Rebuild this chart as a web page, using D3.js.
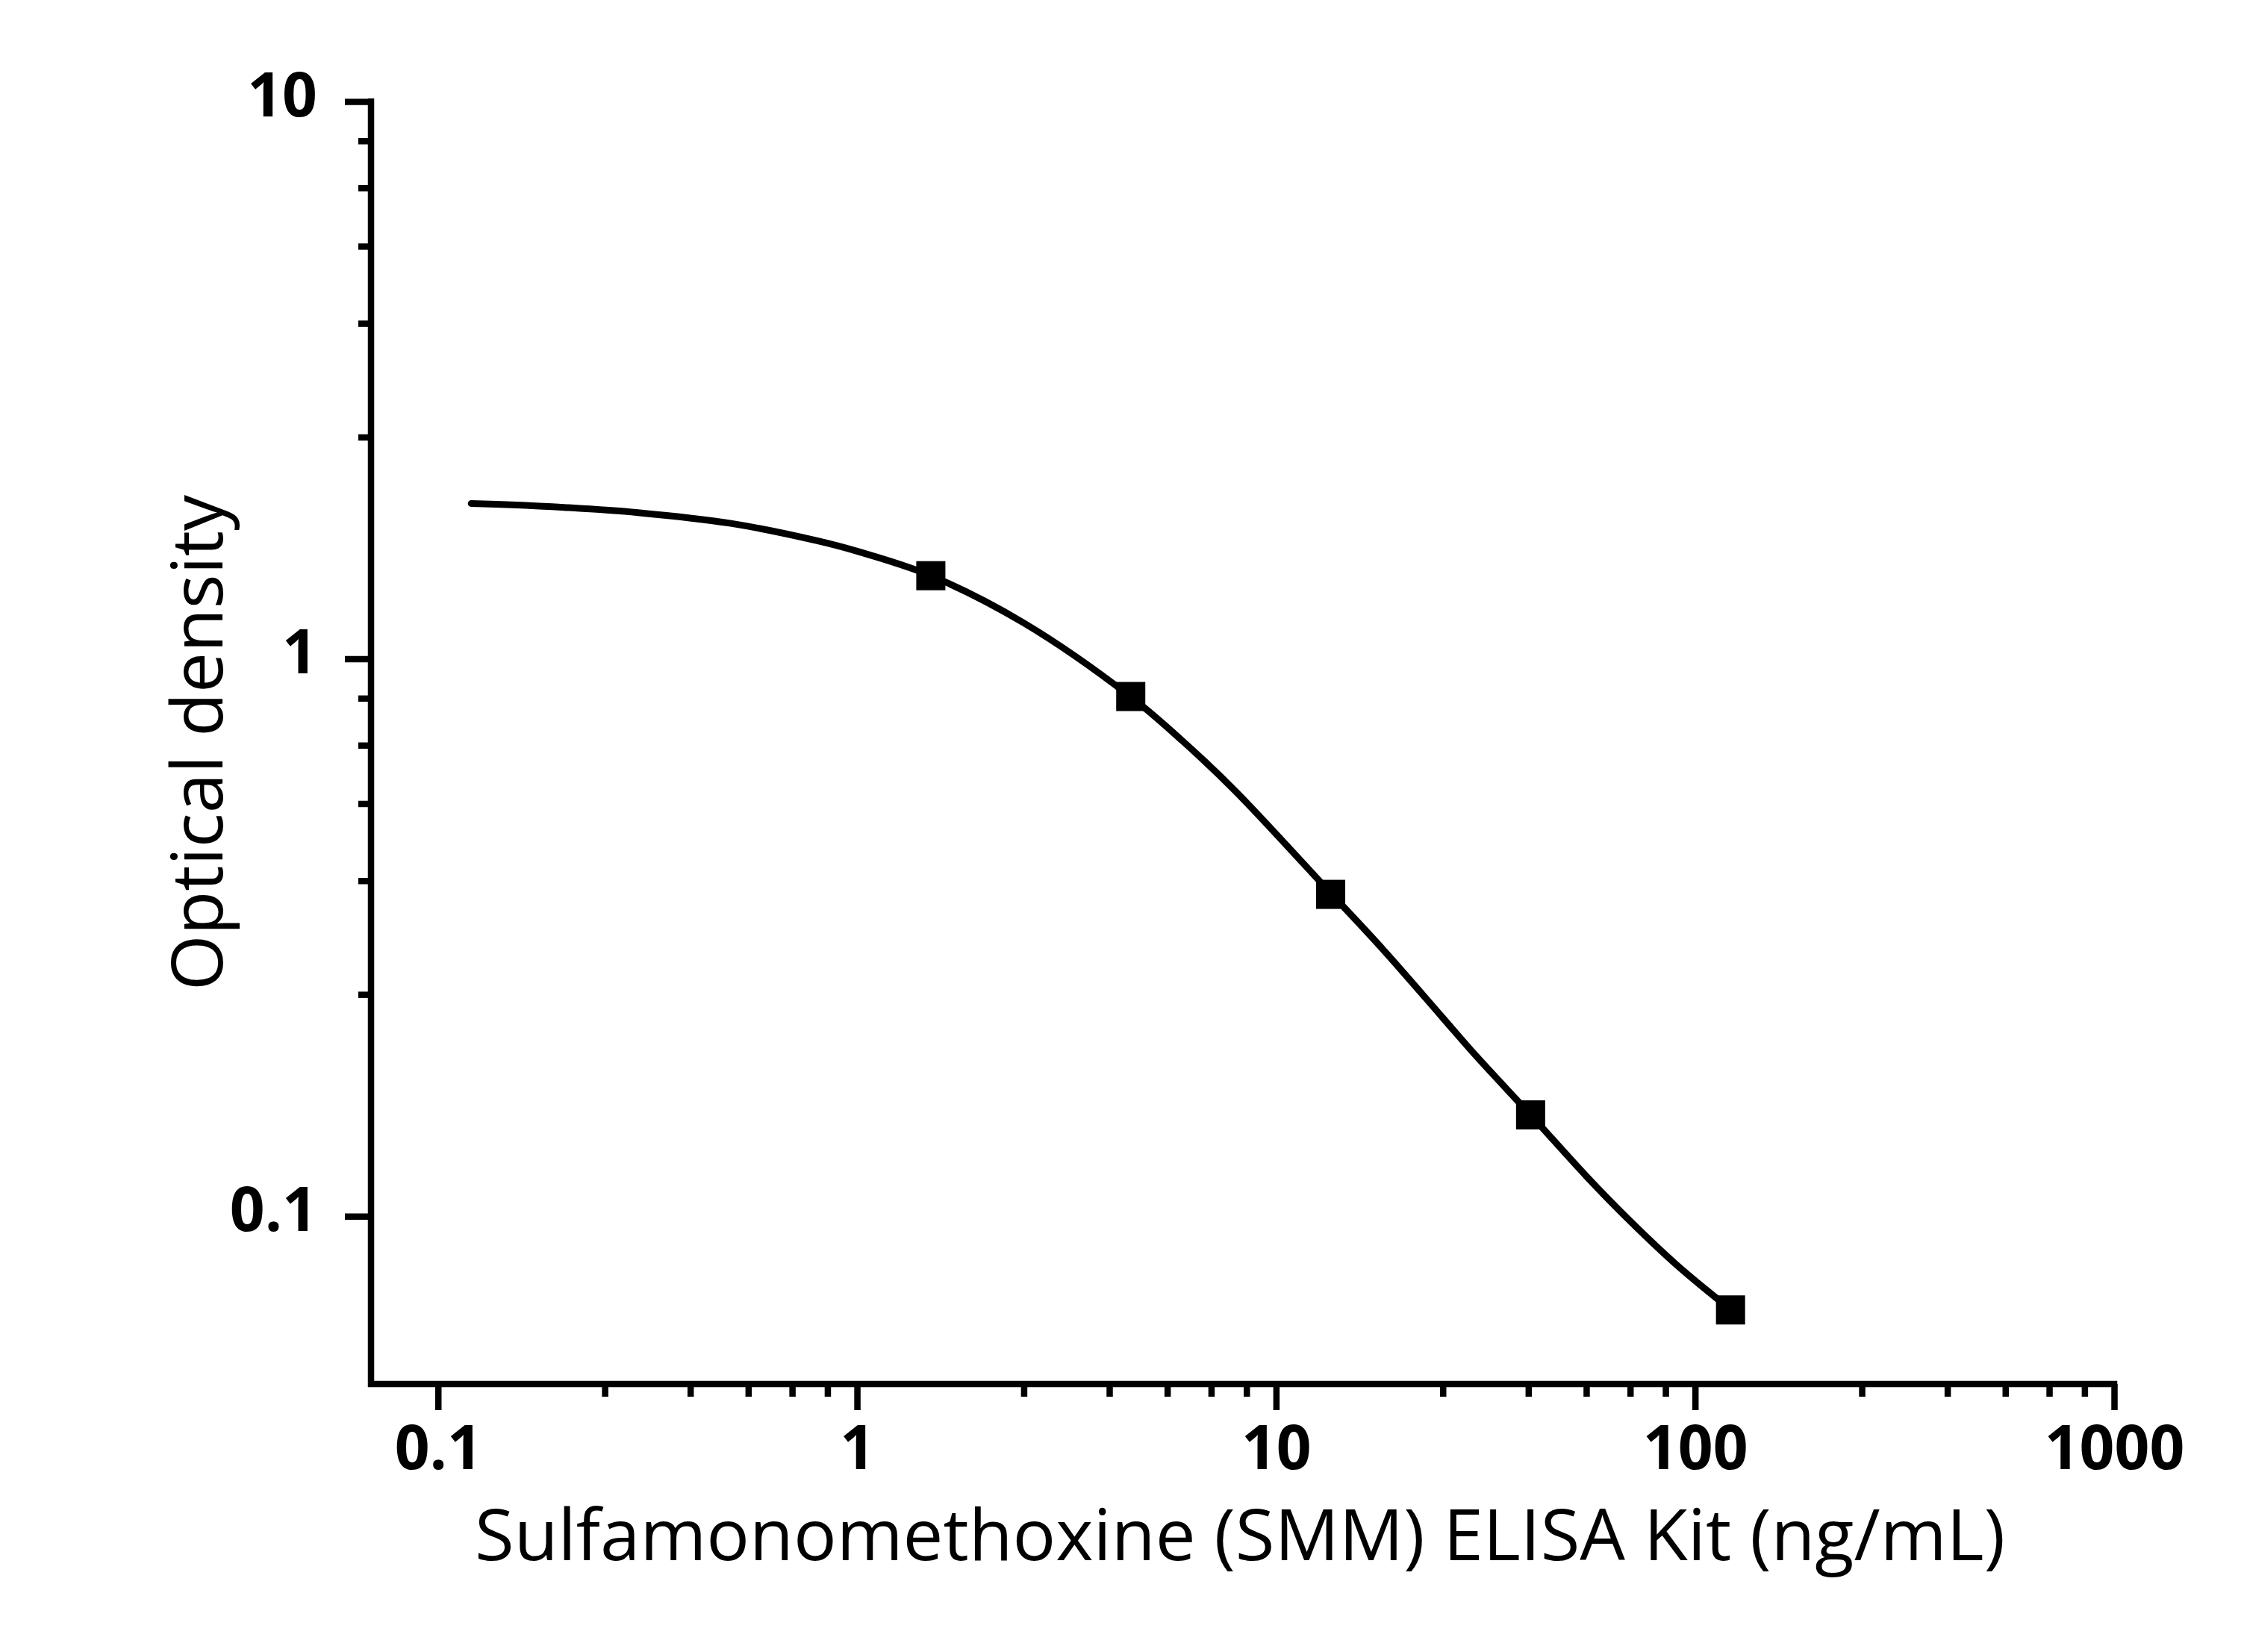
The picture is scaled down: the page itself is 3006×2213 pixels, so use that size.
<!DOCTYPE html>
<html>
<head>
<meta charset="utf-8">
<script src="https://cdn.jsdelivr.net/npm/d3@7"></script>
<style>
  html, body { margin: 0; padding: 0; background: #fff; }
  svg { display: block; }
</style>
</head>
<body>
<script>
// ---- data ----
const pointX = [1.5, 4.5, 13.5, 40.5, 121.5];
const pointY = [1.41, 0.856, 0.378, 0.152, 0.0679];

const curveX = [0.12, 0.15, 0.2, 0.3, 0.5, 0.8, 1, 1.5, 2.5, 4.5, 6, 8, 13.5, 18, 25, 30, 40.5, 55, 70, 90, 121.5];
const curveY = [1.90, 1.89, 1.87, 1.83, 1.75, 1.63, 1.56, 1.41, 1.16, 0.855, 0.711, 0.579, 0.38, 0.301, 0.227, 0.194, 0.152, 0.118, 0.098, 0.082, 0.068];

const xTickValues = [0.1, 1, 10, 100, 1000];
const xTickLabels = ["0.1", "1", "10", "100", "1000"];
const yTickValues = [0.1, 1, 10];
const yTickLabels = ["0.1", "1", "10"];
const minorSteps = [2.5, 4, 5.5, 7, 8.5];

const xTitle = "Sulfamonomethoxine (SMM) ELISA Kit (ng/mL)";
const yTitle = "Optical density";

// ---- layout ----
const W = 3006, H = 2213;
const axisX0 = 497, axisX1 = 2832, axisYTop = 136, axisYBot = 1854;

const svg = d3.select("body").append("svg")
  .attr("width", W).attr("height", H)
  .attr("viewBox", `0 0 ${W} ${H}`);
svg.append("rect").attr("width", W).attr("height", H).attr("fill", "#fff");

const x = d3.scaleLog().domain([0.0692, 1000]).range([axisX0, axisX1]);
const y = d3.scaleLog().domain([0.05, 10]).range([axisYBot, axisYTop]);

function minorsFor(majors) {
  const out = [];
  for (let i = 0; i < majors.length - 1; i++) {
    minorSteps.forEach(m => out.push(majors[i] * m));
  }
  return out;
}
const xMinor = minorsFor(xTickValues);
const yMinor = minorsFor(yTickValues);

const tickFont = "'Open Sans', 'Noto Sans', sans-serif";
const SW = 8.5;

// x axis major
const gx = svg.append("g").attr("transform", `translate(0,${axisYBot})`);
gx.call(d3.axisBottom(x).tickValues(xTickValues).tickSize(35).tickSizeOuter(0)
  .tickFormat((d, i) => xTickLabels[i]));
gx.select(".domain").remove();
gx.selectAll(".tick line").attr("stroke", "#000").attr("stroke-width", SW);
gx.selectAll(".tick text")
  .attr("y", 114).attr("dy", 0)
  .attr("fill", "#000")
  .style("font-family", tickFont).style("font-weight", "bold").style("font-size", "82px");

// x axis minor
const gxm = svg.append("g").attr("transform", `translate(0,${axisYBot})`);
gxm.call(d3.axisBottom(x).tickValues(xMinor).tickSize(17).tickSizeOuter(0).tickFormat(""));
gxm.select(".domain").remove();
gxm.selectAll(".tick line").attr("stroke", "#000").attr("stroke-width", SW);

// y axis major
const gy = svg.append("g").attr("transform", `translate(${axisX0},0)`);
gy.call(d3.axisLeft(y).tickValues(yTickValues).tickSize(35).tickSizeOuter(0)
  .tickFormat((d, i) => yTickLabels[i]));
gy.select(".domain").remove();
gy.selectAll(".tick line").attr("stroke", "#000").attr("stroke-width", SW);
gy.selectAll(".tick text")
  .attr("x", -72).attr("dy", 19)
  .attr("fill", "#000")
  .style("font-family", tickFont).style("font-weight", "bold").style("font-size", "82px");

// y axis minor
const gym = svg.append("g").attr("transform", `translate(${axisX0},0)`);
gym.call(d3.axisLeft(y).tickValues(yMinor).tickSize(17).tickSizeOuter(0).tickFormat(""));
gym.select(".domain").remove();
gym.selectAll(".tick line").attr("stroke", "#000").attr("stroke-width", SW);

// axis lines (L shape)
svg.append("path")
  .attr("d", `M${x.range()[0]},${y.range()[1]}V${y.range()[0]}H${x.range()[1]}`)
  .attr("fill", "none").attr("stroke", "#000").attr("stroke-width", SW)
  .attr("stroke-linecap", "square").attr("stroke-linejoin", "miter");

// fitted curve
const curveData = curveX.map((v, i) => [v, curveY[i]]);
const line = d3.line()
  .x(d => x(d[0])).y(d => y(d[1]))
  .curve(d3.curveCatmullRom.alpha(0.5));
svg.append("path").datum(curveData)
  .attr("d", line)
  .attr("fill", "none").attr("stroke", "#000").attr("stroke-width", 9)
  .attr("stroke-linecap", "round").attr("stroke-linejoin", "round");

// markers
const ms = 39;
svg.append("g").selectAll("rect")
  .data(pointX.map((v, i) => [v, pointY[i]]))
  .join("rect")
  .attr("x", d => x(d[0]) - ms / 2)
  .attr("y", d => y(d[1]) - ms / 2)
  .attr("width", ms).attr("height", ms)
  .attr("fill", "#000");

// axis titles
svg.append("text")
  .attr("x", 1661).attr("y", 2090)
  .attr("text-anchor", "middle")
  .attr("fill", "#000")
  .style("font-family", "'Open Sans', 'Noto Sans', sans-serif")
  .style("font-size", "96px")
  .text(xTitle);

svg.append("text")
  .attr("transform", `translate(298,${(axisYTop + axisYBot) / 2}) rotate(-90)`)
  .attr("text-anchor", "middle")
  .attr("fill", "#000")
  .style("font-family", "'Open Sans', 'Noto Sans', sans-serif")
  .style("font-size", "96px")
  .text(yTitle);
</script>
</body>
</html>
